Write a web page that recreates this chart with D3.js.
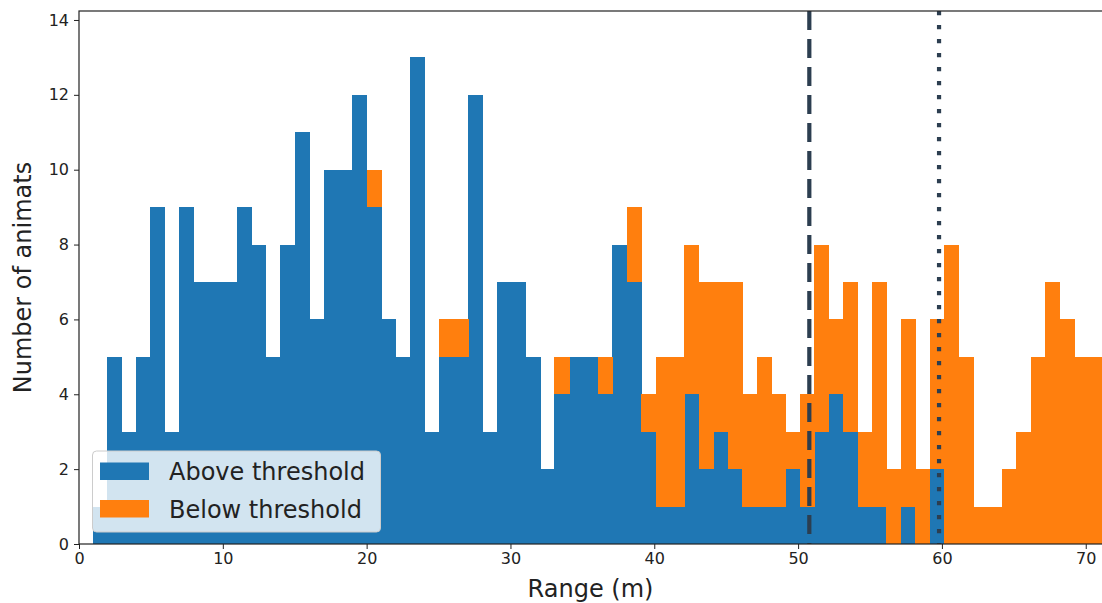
<!DOCTYPE html>
<html>
<head>
<meta charset="utf-8">
<script src="https://cdn.jsdelivr.net/npm/d3@7"></script>
<style>
  html, body { margin: 0; padding: 0; background: #fff; }
  svg { display: block; font-family: "DejaVu Sans", sans-serif; }
</style>
</head>
<body>
<svg id="chart" width="1102" height="603"></svg>
<script>
// ---- data ----
const binStart = 0.95;
const binWidth = 1.0035;
const aboveCounts = [1,5,3,5,9,3,9,7,7,7,9,8,5,8,11,6,10,10,12,9,6,5,13,3,5,5,12,3,7,7,5,2,4,5,5,4,8,7,3,1,1,4,2,3,2,1,1,1,2,1,3,4,3,1,1,0,1,0,2,0,0,0,0,0,0,0,0,0,0,0];
const belowCounts = [0,0,0,0,0,0,0,0,0,0,0,0,0,0,0,0,0,0,0,1,0,0,0,0,1,1,0,0,0,0,0,0,1,0,0,1,0,2,1,4,4,4,5,4,5,3,4,3,1,3,5,2,4,2,6,2,5,2,4,8,5,1,1,2,3,5,7,6,5,5];
const seriesNames = ["Above threshold", "Below threshold"];
const seriesColors = ["#1f77b4", "#ff7f0e"];
const xTicks = [0, 10, 20, 30, 40, 50, 60, 70];
const yTicks = [0, 2, 4, 6, 8, 10, 12, 14];
const dashedLineX = 50.78;
const dottedLineX = 59.8;
const xLabel = "Range (m)";
const yLabel = "Number of animats";

// ---- layout ----
const mLeft = 79, mRight = 1103, mTop = 11, mBottom = 544;
const svg = d3.select("#chart");
const x = d3.scaleLinear().domain([0, 71.2]).range([mLeft, mRight]);
const y = d3.scaleLinear().domain([0, 14.24]).range([mBottom, mTop]);

const bins = aboveCounts.map((a, i) => ({
  x0: binStart + i * binWidth,
  x1: binStart + (i + 1) * binWidth,
  above: a,
  below: belowCounts[i]
}));

const stack = d3.stack().keys(["above", "below"])(bins);

svg.append("g").attr("shape-rendering", "crispEdges")
  .selectAll("g").data(stack).join("g")
  .attr("fill", (d, i) => seriesColors[i])
  .selectAll("rect").data(d => d.filter(s => s[1] > s[0])).join("rect")
  .attr("x", d => x(d.data.x0))
  .attr("width", d => x(d.data.x1) - x(d.data.x0) + 0.6)
  .attr("y", d => y(d[1]))
  .attr("height", d => y(d[0]) - y(d[1]));

// vertical reference lines
svg.append("line")
  .attr("x1", x(dashedLineX)).attr("x2", x(dashedLineX))
  .attr("y1", mTop).attr("y2", mBottom)
  .attr("stroke", "#2c3e50").attr("stroke-width", 4.2)
  .attr("stroke-dasharray", "19,9");
svg.append("line")
  .attr("x1", x(dottedLineX)).attr("x2", x(dottedLineX))
  .attr("y1", mTop).attr("y2", mBottom)
  .attr("stroke", "#2c3e50").attr("stroke-width", 4.2)
  .attr("stroke-dasharray", "4.2,9.8");

// axes
const xAxis = d3.axisBottom(x).tickValues(xTicks).tickSize(5).tickPadding(4).tickFormat(d3.format("d"));
const yAxis = d3.axisLeft(y).tickValues(yTicks).tickSize(5).tickPadding(5).tickFormat(d3.format("d"));

const gx = svg.append("g").attr("transform", `translate(0,${mBottom})`).call(xAxis);
const gy = svg.append("g").attr("transform", `translate(${mLeft},0)`).call(yAxis);
[gx, gy].forEach(g => {
  g.select(".domain").remove();
  g.selectAll(".tick line").attr("stroke", "#222").attr("stroke-width", 1);
  g.selectAll(".tick text").attr("fill", "#222").style("font-size", "16px").style("font-family", "DejaVu Sans");
});

// spines
svg.append("rect")
  .attr("x", mLeft).attr("y", mTop)
  .attr("width", mRight - mLeft).attr("height", mBottom - mTop)
  .attr("fill", "none").attr("stroke", "#222").attr("stroke-width", 1.2);

// axis labels
svg.append("text")
  .attr("x", (mLeft + 1102) / 2).attr("y", 597)
  .attr("text-anchor", "middle").attr("fill", "#222")
  .style("font-size", "24px").text(xLabel);
svg.append("text")
  .attr("transform", `translate(31,${(mTop + mBottom) / 2}) rotate(-90)`)
  .attr("text-anchor", "middle").attr("fill", "#222")
  .style("font-size", "24px").text(yLabel);

// legend
const lg = svg.append("g");
lg.append("rect")
  .attr("x", 92.5).attr("y", 451).attr("width", 288).attr("height", 81)
  .attr("rx", 4).attr("ry", 4)
  .attr("fill", "#fff").attr("fill-opacity", 0.8)
  .attr("stroke", "#ccc").attr("stroke-width", 1);
seriesNames.forEach((name, i) => {
  const yy = 462.5 + i * 37.5;
  lg.append("rect")
    .attr("x", 100).attr("y", yy).attr("width", 49).attr("height", 17.5)
    .attr("fill", seriesColors[i]);
  lg.append("text")
    .attr("x", 169).attr("y", yy + 17.5)
    .attr("fill", "#222").style("font-size", "24px")
    .text(name);
});
</script>
</body>
</html>
